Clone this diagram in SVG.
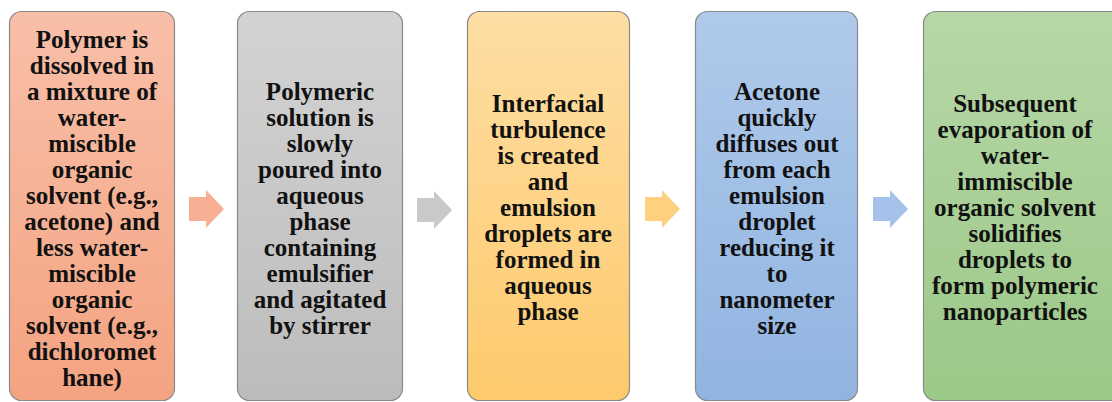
<svg xmlns="http://www.w3.org/2000/svg" xmlns:xlink="http://www.w3.org/1999/xlink" width="1112" height="402" viewBox="0 0 1112 402">
<style>
.box{stroke:#8a8a8a;stroke-width:1.2}
.t{font-family:"Liberation Serif","Times New Roman",serif;font-weight:bold;font-size:25px;fill:#111;text-anchor:middle}
</style>
<defs>
<linearGradient id="g1" x1="0" y1="0" x2="0" y2="1"><stop offset="0" stop-color="#f8bfa8"/><stop offset="1" stop-color="#f4a381"/></linearGradient>
<linearGradient id="g2" x1="0" y1="0" x2="0" y2="1"><stop offset="0" stop-color="#d3d3d3"/><stop offset="1" stop-color="#bcbcbc"/></linearGradient>
<linearGradient id="g3" x1="0" y1="0" x2="0" y2="1"><stop offset="0" stop-color="#fedea4"/><stop offset="1" stop-color="#fdca6c"/></linearGradient>
<linearGradient id="g4" x1="0" y1="0" x2="0" y2="1"><stop offset="0" stop-color="#afcaeb"/><stop offset="1" stop-color="#91b4e0"/></linearGradient>
<linearGradient id="g5" x1="0" y1="0" x2="0" y2="1"><stop offset="0" stop-color="#b7d7a7"/><stop offset="1" stop-color="#9bc887"/></linearGradient>
<path id="arr" d="M0,-12 H17 V-19 L35,0 L17,19 V12 H0 Z"/>
</defs>
<g id="connectors">
<use xlink:href="#arr" href="#arr" transform="translate(189,209)" fill="#f7b093"/>
<use xlink:href="#arr" href="#arr" transform="translate(417,210)" fill="#c9c9c9"/>
<use xlink:href="#arr" href="#arr" transform="translate(645,209)" fill="#fed180"/>
<use xlink:href="#arr" href="#arr" transform="translate(873,209)" fill="#a5c2ea"/>
</g>
<g id="node1">
<rect class="box" x="9.5" y="11.5" width="165" height="389" rx="12" fill="url(#g1)"/>
<text class="t" x="92" y="48">Polymer is</text>
<text class="t" x="92" y="74">dissolved in</text>
<text class="t" x="92" y="100">a mixture of</text>
<text class="t" x="92" y="126">water-</text>
<text class="t" x="92" y="152">miscible</text>
<text class="t" x="92" y="178">organic</text>
<text class="t" x="92" y="204">solvent (e.g.,</text>
<text class="t" x="92" y="230">acetone) and</text>
<text class="t" x="92" y="256">less water-</text>
<text class="t" x="92" y="282">miscible</text>
<text class="t" x="92" y="308">organic</text>
<text class="t" x="92" y="334">solvent (e.g.,</text>
<text class="t" x="92" y="360">dichloromet</text>
<text class="t" x="92" y="386">hane)</text>
</g>
<g id="node2">
<rect class="box" x="237.5" y="11.5" width="165" height="389" rx="12" fill="url(#g2)"/>
<text class="t" x="320" y="100">Polymeric</text>
<text class="t" x="320" y="126">solution is</text>
<text class="t" x="320" y="152">slowly</text>
<text class="t" x="320" y="178">poured into</text>
<text class="t" x="320" y="204">aqueous</text>
<text class="t" x="320" y="230">phase</text>
<text class="t" x="320" y="256">containing</text>
<text class="t" x="320" y="282">emulsifier</text>
<text class="t" x="320" y="308">and agitated</text>
<text class="t" x="320" y="334">by stirrer</text>
</g>
<g id="node3">
<rect class="box" x="467.5" y="11.5" width="162" height="389" rx="12" fill="url(#g3)"/>
<text class="t" x="548" y="112">Interfacial</text>
<text class="t" x="548" y="138">turbulence</text>
<text class="t" x="548" y="164">is created</text>
<text class="t" x="548" y="190">and</text>
<text class="t" x="548" y="216">emulsion</text>
<text class="t" x="548" y="242">droplets are</text>
<text class="t" x="548" y="268">formed in</text>
<text class="t" x="548" y="294">aqueous</text>
<text class="t" x="548" y="320">phase</text>
</g>
<g id="node4">
<rect class="box" x="695.5" y="11.5" width="162" height="389" rx="12" fill="url(#g4)"/>
<text class="t" x="777" y="100">Acetone</text>
<text class="t" x="777" y="126">quickly</text>
<text class="t" x="777" y="152">diffuses out</text>
<text class="t" x="777" y="178">from each</text>
<text class="t" x="777" y="204">emulsion</text>
<text class="t" x="777" y="230">droplet</text>
<text class="t" x="777" y="256">reducing it</text>
<text class="t" x="777" y="282">to</text>
<text class="t" x="777" y="308">nanometer</text>
<text class="t" x="777" y="334">size</text>
</g>
<g id="node5">
<rect class="box" x="923.5" y="11.5" width="200" height="389" rx="12" fill="url(#g5)"/>
<text class="t" x="1015" y="112">Subsequent</text>
<text class="t" x="1015" y="138">evaporation of</text>
<text class="t" x="1015" y="164">water-</text>
<text class="t" x="1015" y="190">immiscible</text>
<text class="t" x="1015" y="216">organic solvent</text>
<text class="t" x="1015" y="242">solidifies</text>
<text class="t" x="1015" y="268">droplets to</text>
<text class="t" x="1015" y="294">form polymeric</text>
<text class="t" x="1015" y="320">nanoparticles</text>
</g>
</svg>
